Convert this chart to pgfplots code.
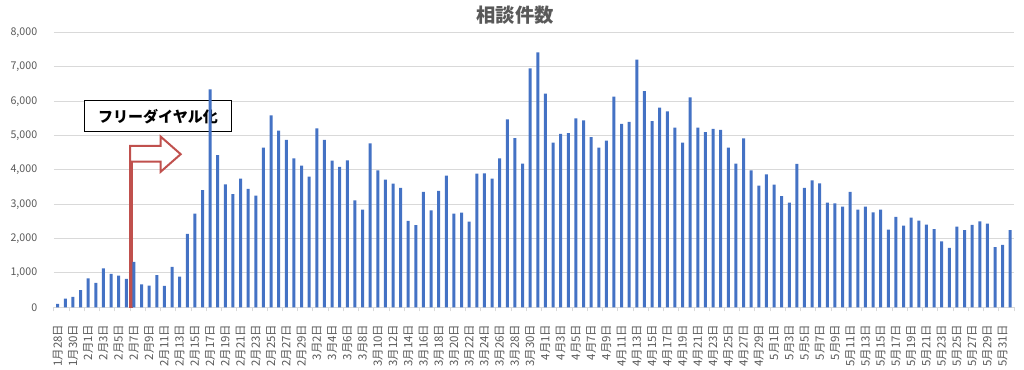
\documentclass[border=0pt]{standalone}
\usepackage{fontspec}
\setmainfont{Noto Sans CJK JP}
\usepackage{pgfplots}
\pgfplotsset{compat=1.18}
\usepackage{pgfplotstable}
\definecolor{barblue}{HTML}{4472C4}
\definecolor{gridgray}{HTML}{D9D9D9}
\definecolor{txtgray}{HTML}{595959}
\definecolor{arrred}{HTML}{C0504D}

\pgfplotstableread{
x y
0 100
1 250
2 300
3 500
4 845
5 710
6 1130
7 970
8 920
9 825
10 1320
11 670
12 630
13 940
14 620
15 1175
16 890
17 2135
18 2730
19 3410
20 6350
21 4430
22 3580
23 3300
24 3750
25 3450
26 3250
27 4650
28 5590
29 5150
30 4880
31 4340
32 4125
33 3805
34 5215
35 4875
36 4270
37 4090
38 4280
39 3115
40 2845
41 4775
42 3990
43 3720
44 3600
45 3475
46 2515
47 2390
48 3360
49 2825
50 3390
51 3835
52 2730
53 2760
54 2495
55 3895
56 3900
57 3750
58 4340
59 5475
60 4930
61 4185
62 6960
63 7425
64 6225
65 4795
66 5050
67 5070
68 5505
69 5445
70 4960
71 4650
72 4855
73 6135
74 5340
75 5400
76 7215
77 6300
78 5420
79 5815
80 5710
81 5235
82 4795
83 6115
84 5235
85 5105
86 5195
87 5165
88 4650
89 4185
90 4920
91 3990
92 3545
93 3875
94 3575
95 3235
96 3050
97 4175
98 3475
99 3700
100 3610
101 3050
102 3030
103 2930
104 3360
105 2845
106 2930
107 2765
108 2845
109 2260
110 2630
111 2380
112 2610
113 2525
114 2410
115 2280
116 1920
117 1730
118 2350
119 2250
120 2400
121 2505
122 2435
123 1750
124 1815
125 2250
}\counts

\begin{document}
\begin{tikzpicture}
\path[use as bounding box] (0,0) rectangle (768pt,276.75pt);
\begin{axis}[
  at={(40.43pt,46.3pt)}, anchor=south west,
  scale only axis, width=720.1pt, height=205.95pt,
  xmin=-0.5, xmax=125.5, ymin=0, ymax=8000,
  ytick={0,1000,...,8000},
  xtick={0,2,...,124},
  xticklabels={1月28日,1月30日,2月1日,2月3日,2月5日,2月7日,2月9日,2月11日,2月13日,2月15日,2月17日,2月19日,2月21日,2月23日,2月25日,2月27日,2月29日,3月2日,3月4日,3月6日,3月8日,3月10日,3月12日,3月14日,3月16日,3月18日,3月20日,3月22日,3月24日,3月26日,3月28日,3月30日,4月1日,4月3日,4月5日,4月7日,4月9日,4月11日,4月13日,4月15日,4月17日,4月19日,4月21日,4月23日,4月25日,4月27日,4月29日,5月1日,5月3日,5月5日,5月7日,5月9日,5月11日,5月13日,5月15日,5月17日,5月19日,5月21日,5月23日,5月25日,5月27日,5月29日,5月31日},
  minor xtick={-0.5,1.5,...,125.5},
  axis line style={draw=none},
  tick pos=bottom, tick align=outside,
  major tick length=0pt, minor tick length=3pt,
  tick style={gridgray, line width=0.75pt},
  ytick style={draw=none},
  ymajorgrids, grid style={gridgray, line width=0.75pt},
  scaled y ticks=false,
  /pgf/number format/1000 sep={,},
  /pgf/number format/assume math mode=true,
  yticklabel style={font=\fontsize{8}{9.5}\selectfont, text=txtgray, xshift=-9pt},
  xticklabel style={font=\fontsize{8.6}{10}\selectfont, text=txtgray, yshift=-9.5pt, rotate=90, anchor=east},
  ybar, bar width=2.25pt, bar shift=0pt,
]
\draw[black, line width=0.75pt, fill=white] (axis cs:3.58,5115) rectangle (axis cs:22.74,6018);
\node[font=\fontsize{11.25}{13}\selectfont\bfseries] at (axis cs:13.16,5567) {フリーダイヤル化};
\draw[arrred, line width=1.5pt, fill=white, line join=miter]
  (axis cs:9.5,0) -- (axis cs:9.5,4699) -- (axis cs:13.52,4699) -- (axis cs:13.52,4970)
  -- (axis cs:16.14,4460) -- (axis cs:13.52,3950) -- (axis cs:13.52,4241)
  -- (axis cs:9.72,4241) -- (axis cs:9.72,0) -- cycle;
\addplot[fill=barblue, draw=none] table[x=x, y=y] {\counts};
\end{axis}
\node[font=\fontsize{14.5}{17}\selectfont\bfseries, text=txtgray] at (386.25pt,265.7pt) {相談件数};
\end{tikzpicture}
\end{document}
